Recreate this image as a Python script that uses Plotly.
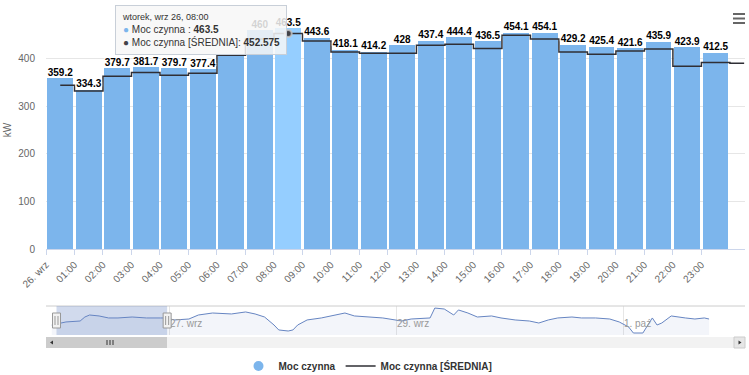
import pandas as pd
import plotly.graph_objects as go

# ---------------- data ----------------
start = pd.Timestamp("2023-09-26 00:00")
tick_labels = ["26. wrz", "01:00", "02:00", "03:00", "04:00", "05:00", "06:00", "07:00",
               "08:00", "09:00", "10:00", "11:00", "12:00", "13:00", "14:00", "15:00",
               "16:00", "17:00", "18:00", "19:00", "20:00", "21:00", "22:00", "23:00"]
moc_czynna = [359.2, 334.3, 379.7, 381.7, 379.7, 377.4, 406.1, 460.0, 463.5, 443.6, 418.1, 414.2,
              428, 437.4, 444.4, 436.5, 454.1, 454.1, 429.2, 425.4, 421.6, 435.9, 423.9, 412.5]
# average series (one extra point for the next hour, visible at the right edge)
srednia = [344, 332, 363, 371, 365, 369, 407, 441, 452.575, 437, 414, 411,
           411, 428, 430, 421, 449, 441, 414, 409, 416, 420, 384, 392, 390]
hover_index = 8
hidden_label_index = 6  # label covered by the tooltip in the reference

# navigator (whole period) - hours from start and values
nav_hours = [-1, 2, 5, 6, 7, 9, 11, 13, 16, 19, 22, 23, 25, 28, 30, 33, 37, 40, 42, 44, 46, 47,
             49, 50, 51, 53, 56, 58, 61, 63, 66, 68, 69, 73, 75, 79, 80, 82, 84, 85, 87, 89, 92,
             94, 97, 100, 102, 104, 106, 109, 111, 114, 117, 119, 121, 122, 124, 126, 127, 128,
             130, 133, 135, 137, 138]
nav_values = [345, 380, 391, 437, 460, 449, 426, 426, 437, 426, 426, 426, 403, 414, 460, 483, 472,
              495, 472, 437, 345, 288, 276, 288, 345, 403, 426, 449, 483, 449, 437, 426, 426, 391,
              414, 426, 540, 529, 460, 518, 483, 437, 449, 426, 403, 391, 368, 403, 426, 437, 426,
              426, 414, 380, 322, 253, 253, 426, 345, 368, 449, 426, 414, 426, 414]
nav_tick_days = [1, 3, 5]
nav_tick_labels = ["27. wrz", "29. wrz", "1. paź"]
nav_selection_hours = [0, 23.4]

# ---------------- styling helpers ----------------
H = pd.Timedelta(hours=1)
BLUE = "#7cb5ec"
HOVER_BLUE = "#95ceff"
DARK = "#434348"
FONT = "Liberation Sans, Arial, sans-serif"
W, HGT = 749, 375
ML, MR, MT, MB = 46, 4, 11, 0
PH = HGT - MT - MB
PW = W - ML - MR


def py(pix):  # pixel row -> paper y
    return (HGT - MB - pix) / PH


def px(pix):  # pixel column -> paper x
    return (pix - ML) / PW


x_center = [start + (i + 0.5) * H for i in range(len(moc_czynna))]
x_line = [start + (i + 0.5) * H for i in range(len(srednia))]
bar_colors = [HOVER_BLUE if i == hover_index else BLUE for i in range(len(moc_czynna))]
bar_text = ["" if i == hidden_label_index else f"{v:g}" for i, v in enumerate(moc_czynna)]

fig = go.Figure()

fig.add_trace(go.Bar(
    x=x_center, y=moc_czynna, width=0.9 * 3600000,
    marker=dict(color=bar_colors, line=dict(width=0)),
    text=bar_text, textposition="outside", constraintext="none",
    textfont=dict(family=FONT, size=10, color="#000000", weight="bold"),
    cliponaxis=False, showlegend=False, hoverinfo="skip"))

fig.add_trace(go.Scatter(
    x=[None], y=[None], mode="markers", name="Moc czynna",
    marker=dict(symbol="circle", size=10, color=BLUE)))

fig.add_trace(go.Scatter(
    x=x_line, y=srednia, mode="lines", name="Moc czynna [ŚREDNIA]",
    line=dict(shape="hvh", color="#2f2f35", width=1.5), hoverinfo="skip"))

fig.add_trace(go.Scatter(
    x=[x_line[hover_index]], y=[srednia[hover_index]], mode="markers",
    marker=dict(size=7, color=DARK, line=dict(color="rgba(200,200,200,0.8)", width=2)),
    showlegend=False, hoverinfo="skip"))

# data labels drawn again on top of the step line (white halo like the original)
fig.add_trace(go.Scatter(
    x=x_center, y=moc_czynna, mode="text", text=bar_text, textposition="top center",
    textfont=dict(family=FONT, size=10, color="#000000", weight="bold",
                  shadow="1px 1px 1px #fff, -1px -1px 1px #fff, 1px -1px 1px #fff, -1px 1px 1px #fff"),
    cliponaxis=False, showlegend=False, hoverinfo="skip"))

# navigator series
nav_x = [start + h * H for h in nav_hours]
fig.add_trace(go.Scatter(
    x=nav_x, y=nav_values, xaxis="x2", yaxis="y2", mode="lines",
    line=dict(color="#6685c2", width=1), fill="tozeroy",
    fillcolor="rgba(102,133,194,0.08)", showlegend=False, hoverinfo="skip"))

main_bottom = py(249)
nav_bottom, nav_top = py(335), py(306)

fig.update_layout(
    width=W, height=HGT, margin=dict(l=ML, r=MR, t=MT, b=MB, autoexpand=False),
    paper_bgcolor="white", plot_bgcolor="white", hovermode=False,
    font=dict(family=FONT, size=10, color="#666666"),
    bargap=0,
    xaxis=dict(
        type="date", domain=[0, 1], anchor="y", automargin=False,
        range=[start, start + 24.53 * H],
        tickvals=[start + i * H for i in range(len(tick_labels))], ticktext=tick_labels,
        tickangle=-45, tickfont=dict(size=10, color="#666666"),
        ticks="outside", ticklen=5, tickcolor="#ccd6eb",
        showline=True, linecolor="#ccd6eb", showgrid=False, zeroline=False),
    yaxis=dict(
        domain=[main_bottom, 1], anchor="x", range=[0, 500], automargin=False,
        tickvals=[0, 100, 200, 300, 400, 500], ticktext=["0", "100", "200", "300", "400", ""],
        tickfont=dict(size=10, color="#666666"), ticks="outside", ticklen=8, tickcolor="white",
        gridcolor="#e6e6e6", zeroline=False,
        title=dict(text="kW", font=dict(size=10, color="#666666"), standoff=4)),
    xaxis2=dict(
        type="date", domain=[0, 1], anchor="y2", automargin=False,
        range=[start - 2.22 * H, start + 145.6 * H],
        tickvals=[start + d * 24 * H for d in nav_tick_days], ticktext=nav_tick_labels,
        ticklabelposition="inside right", tickfont=dict(size=10, color="#999999"),
        showgrid=True, gridcolor="#e6e6e6", ticks="", showline=False, zeroline=False),
    yaxis2=dict(
        domain=[nav_bottom, nav_top], anchor="x2", range=[230, 563.5], automargin=False,
        showgrid=False, showticklabels=False, zeroline=False, ticks=""),
    legend=dict(
        orientation="h", x=px(368), xanchor="center", y=py(366), yanchor="middle",
        font=dict(size=10, color="#333333", weight="bold"), bgcolor="rgba(0,0,0,0)"),
)
fig.data[0].text = None  # labels are shown by the text trace above

shapes = []
sel0, sel1 = [start + h * H for h in nav_selection_hours]
# navigator top outline
shapes.append(dict(type="line", xref="paper", yref="paper", x0=0, x1=1, y0=nav_top, y1=nav_top,
                   line=dict(color="#cccccc", width=1)))
# selected-range mask
shapes.append(dict(type="rect", xref="x2", yref="paper", x0=sel0, x1=sel1,
                   y0=nav_bottom, y1=nav_top, fillcolor="rgba(102,133,194,0.3)",
                   line=dict(width=0), layer="above"))
# handles
for hx in [sel0, sel1]:
    shapes.append(dict(type="rect", xref="x2", yref="paper", xsizemode="pixel", xanchor=hx,
                       x0=-4, x1=4, y0=py(328), y1=py(313), fillcolor="#f2f2f2",
                       line=dict(color="#999999", width=1), layer="above"))
    for dx in (-1.5, 1.5):
        shapes.append(dict(type="line", xref="x2", yref="paper", xsizemode="pixel", xanchor=hx,
                           x0=dx, x1=dx, y0=py(325), y1=py(316),
                           line=dict(color="#999999", width=1), layer="above"))
# scrollbar
shapes.append(dict(type="rect", xref="paper", yref="paper", x0=0, x1=1, y0=py(348), y1=py(337),
                   fillcolor="#f2f2f2", line=dict(width=0)))
shapes.append(dict(type="rect", xref="paper", yref="paper", x0=0, x1=px(167), y0=py(348), y1=py(337),
                   fillcolor="#cccccc", line=dict(width=0)))
shapes.append(dict(type="rect", xref="paper", yref="paper", x0=px(734), x1=1, y0=py(348), y1=py(337),
                   fillcolor="#e6e6e6", line=dict(color="#cccccc", width=1)))
for gx in (107, 110, 113):
    shapes.append(dict(type="line", xref="paper", yref="paper", x0=px(gx), x1=px(gx),
                       y0=py(345), y1=py(340), line=dict(color="#333333", width=1)))
shapes.append(dict(type="path", xref="paper", yref="paper",
                   path=f"M {px(53)} {py(340.5)} L {px(53)} {py(344.5)} L {px(50)} {py(342.5)} Z",
                   fillcolor="#333333", line=dict(width=0)))
shapes.append(dict(type="path", xref="paper", yref="paper",
                   path=f"M {px(738.5)} {py(340.5)} L {px(738.5)} {py(344.5)} L {px(741.5)} {py(342.5)} Z",
                   fillcolor="#333333", line=dict(width=0)))
# export menu icon
for iy in (14, 18.5, 23):
    shapes.append(dict(type="line", xref="paper", yref="paper", x0=px(733), x1=px(745),
                       y0=py(iy), y1=py(iy), line=dict(color="#666666", width=2)))
fig.update_layout(shapes=shapes)

# tooltip
tip = (f"<span style='font-size:9px'>wtorek, wrz 26, {tick_labels[hover_index]}</span><br>"
       f"<span style='color:{BLUE}'>●</span> Moc czynna : <b>{moc_czynna[hover_index]:g}</b><br>"
       f"<span style='color:{DARK}'>●</span> Moc czynna [ŚREDNIA]: <b>{srednia[hover_index]:g}</b>")
fig.add_annotation(xref="paper", yref="paper", x=px(115), y=py(5), xanchor="left", yanchor="top",
                   text=tip, showarrow=False, align="left",
                   font=dict(family=FONT, size=10, color="#333333"),
                   bgcolor="rgba(247,247,247,0.85)", bordercolor="#c8cfd8", borderwidth=1,
                   borderpad=6)

fig.write_html("out.html", config={"displayModeBar": False},
               post_script="document.body.style.margin='0';document.body.style.overflow='hidden';")
